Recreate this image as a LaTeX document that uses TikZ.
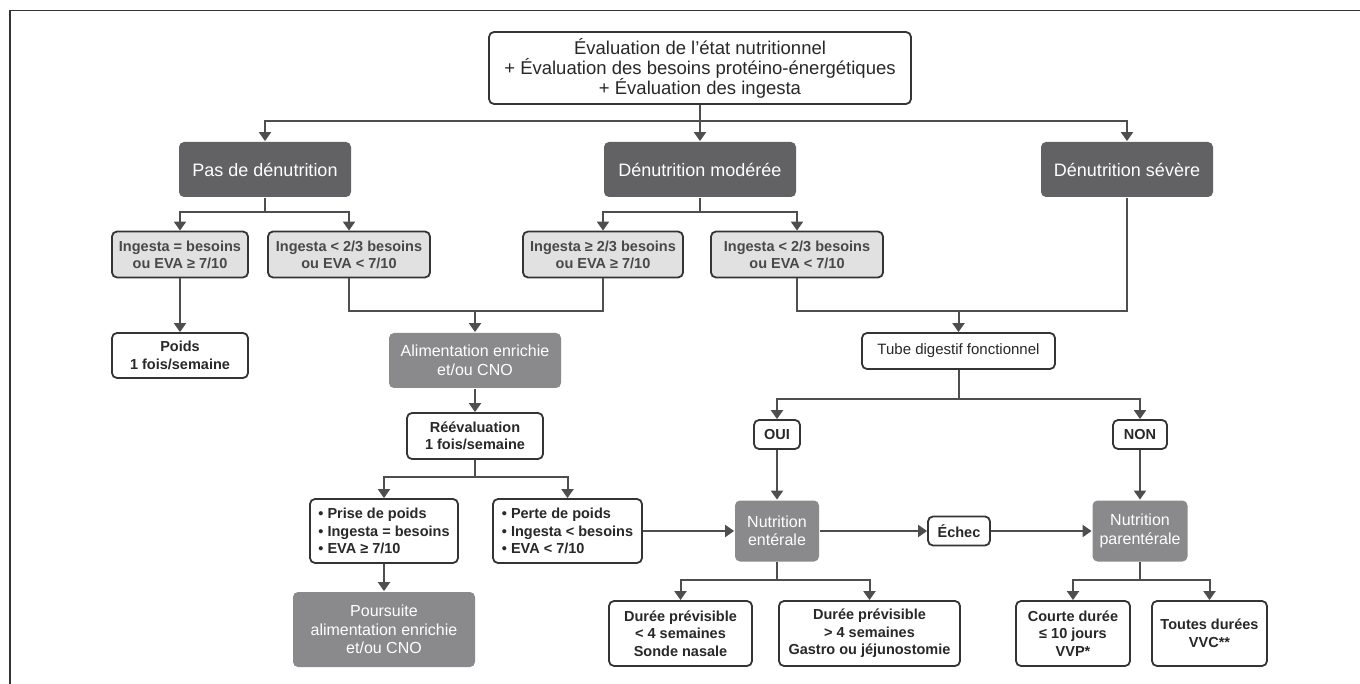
\documentclass[tikz,border=0pt]{standalone}
\usepackage{fontspec}
\setmainfont{Liberation Sans}
\usetikzlibrary{arrows.meta}
\definecolor{darkbox}{RGB}{98,98,100}
\definecolor{midbox}{RGB}{138,138,140}
\definecolor{lightbox}{RGB}{225,225,226}
\definecolor{edge}{RGB}{52,52,52}
\definecolor{linkcol}{RGB}{78,78,78}
\definecolor{txtgray}{RGB}{72,72,72}
\definecolor{txtdark}{RGB}{40,40,40}
\tikzset{
  wh/.style 2 args={minimum width=#1, minimum height=#2},
  box/.style={rounded corners=5pt, inner sep=0pt, align=center, line width=1.8pt},
  evalbox/.style={box, draw=edge, fill=white, text=txtdark, font=\fontsize{18.5}{20}\selectfont},
  classbox/.style={box, fill=darkbox, text=white, font=\fontsize{18}{21}\selectfont},
  condbox/.style={box, draw=edge, fill=lightbox, text=txtgray, font=\bfseries\fontsize{14.5}{17}\selectfont},
  actbox/.style={box, fill=midbox, text=white, font=\fontsize{16}{18.5}\selectfont},
  infobox/.style={box, draw=edge, fill=white, text=txtdark, font=\bfseries\fontsize{14.5}{17.5}\selectfont},
  plainbox/.style={box, draw=edge, fill=white, text=txtdark, font=\fontsize{15}{18}\selectfont},
  link/.style={draw=linkcol, line width=2pt},
  arr/.style={link, -{Triangle[width=12pt,length=9pt]}},
}
\begin{document}
\begin{tikzpicture}[x=1pt,y=-1pt]
\useasboundingbox (0,0) rectangle (1360,684);
% cadre
\draw[edge, line width=1.6pt] (10,684) -- (10,10.7) -- (1360,10.7);

% evaluation
\node[evalbox, wh={422}{72}] (eval) at (700,68) {Évaluation de l’état nutritionnel\\+ Évaluation des besoins protéino-énergétiques\\+ Évaluation des ingesta};

% degres de denutrition
\node[classbox, wh={172}{55}] (pas) at (265,169.5) {Pas de dénutrition};
\node[classbox, wh={192}{55}] (moderee) at (700,169.5) {Dénutrition modérée};
\node[classbox, wh={172}{55}] (severe) at (1127,169.5) {Dénutrition sévère};

% ingesta
\node[condbox, wh={136}{46}] (ingA) at (180,254.5) {Ingesta = besoins\\ou EVA ≥ 7/10};
\node[condbox, wh={162}{46}] (ingB) at (349,254.5) {Ingesta < 2/3 besoins\\ou EVA < 7/10};
\node[condbox, wh={160}{46}] (ingC) at (603,254.5) {Ingesta ≥ 2/3 besoins\\ou EVA ≥ 7/10};
\node[condbox, wh={172}{46}] (ingD) at (797,254.5) {Ingesta < 2/3 besoins\\ou EVA < 7/10};

% prise en charge
\node[infobox, wh={136}{45}] (poids) at (180,355.5) {Poids\\1 fois/semaine};
\node[actbox, wh={172}{55}] (alim) at (475,360.5) {Alimentation enrichie\\et/ou CNO};
\node[plainbox, wh={193}{36}] (tube) at (958.5,351) {Tube digestif fonctionnel};
\node[infobox, wh={136}{46}] (reeval) at (475,436) {Réévaluation\\1 fois/semaine};
\node[infobox, wh={46}{29}] (oui) at (777,434.5) {OUI};
\node[infobox, wh={54}{29}] (non) at (1140,434.5) {NON};
\node[infobox, wh={148}{64}, align=left] (prise) at (384,531) {• Prise de poids\\• Ingesta = besoins\\• EVA ≥ 7/10};
\node[infobox, wh={149}{64}, align=left] (perte) at (567.5,531) {• Perte de poids\\• Ingesta < besoins\\• EVA < 7/10};
\node[actbox, wh={84}{61}] (enterale) at (777,531) {Nutrition\\entérale};
\node[infobox, wh={62}{29}] (echec) at (959,531) {Échec};
\node[actbox, wh={95}{61}] (parent) at (1140,531) {Nutrition\\parentérale};
\node[actbox, wh={182}{75}] (poursuite) at (384,629.5) {Poursuite\\alimentation enrichie\\et/ou CNO};
\node[infobox, wh={143}{65}] (dureeA) at (680.5,633.5) {Durée prévisible\\< 4 semaines\\Sonde nasale};
\node[infobox, wh={181}{65}] (dureeB) at (869.5,633.5) {Durée prévisible\\> 4 semaines\\Gastro ou jéjunostomie};
\node[infobox, wh={114}{65}] (courte) at (1073,633.5) {Courte durée\\≤ 10 jours\\VVP*};
\node[infobox, wh={115}{65}] (toutes) at (1209.5,633.5) {Toutes durées\\VVC**};

% points de jonction
\coordinate (j1) at (700,120.7);
\coordinate (jpas) at (265,211.7);
\coordinate (jmod) at (700,211.7);
\coordinate (jalim) at (475,310.7);
\coordinate (jtube) at (958.5,310.7);
\coordinate (jree) at (475,476.7);
\coordinate (jon) at (958.5,399.3);
\coordinate (jent) at (777,580);
\coordinate (jpar) at (1140,580);

% liaisons
\draw[arr] (eval) -- (moderee);
\draw[arr] (j1) -| (pas);
\draw[arr] (j1) -| (severe);
\draw[link] (pas) -- (jpas);
\draw[arr] (jpas) -| (ingA);
\draw[arr] (jpas) -| (ingB);
\draw[link] (moderee) -- (jmod);
\draw[arr] (jmod) -| (ingC);
\draw[arr] (jmod) -| (ingD);
\draw[arr] (ingA) -- (poids);
\draw[link] (ingB.south) |- (jalim) -| (ingC.south);
\draw[arr] (jalim) -- (alim);
\draw[link] (ingD.south) |- (jtube) -| (severe.south);
\draw[arr] (jtube) -- (tube);
\draw[arr] (alim) -- (reeval);
\draw[link] (reeval) -- (jree);
\draw[arr] (jree) -| (prise);
\draw[arr] (jree) -| (perte);
\draw[arr] (prise) -- (poursuite);
\draw[link] (tube) -- (jon);
\draw[arr] (jon) -| (oui);
\draw[arr] (jon) -| (non);
\draw[arr] (oui) -- (enterale);
\draw[arr] (non) -- (parent);
\draw[arr] (perte) -- (enterale);
\draw[arr] (enterale) -- (echec);
\draw[arr] (echec) -- (parent);
\draw[link] (enterale) -- (jent);
\draw[arr] (jent) -| (dureeA);
\draw[arr] (jent) -| (dureeB);
\draw[link] (parent) -- (jpar);
\draw[arr] (jpar) -| (courte);
\draw[arr] (jpar) -| (toutes);
\end{tikzpicture}
\end{document}
